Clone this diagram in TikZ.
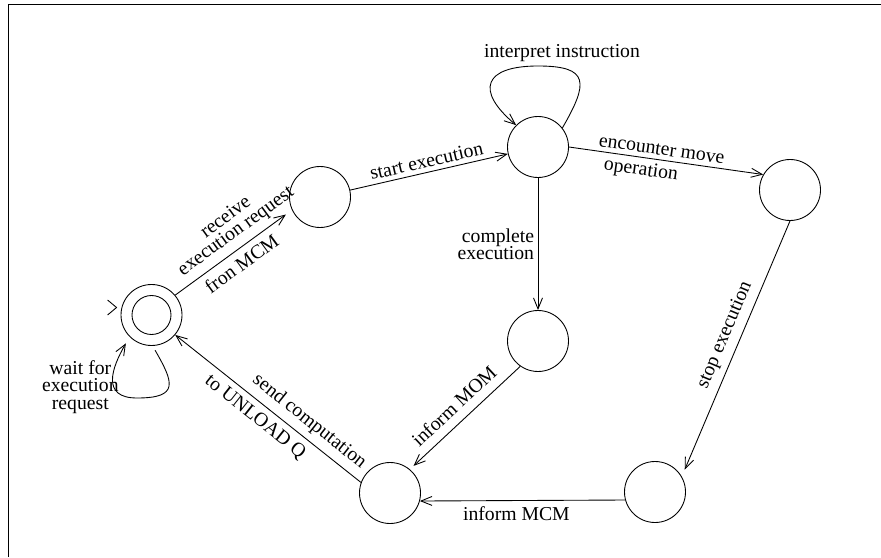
\documentclass[tikz,border=0pt]{standalone}
\usepackage{fontspec}
\setmainfont{Liberation Serif}
\usetikzlibrary{arrows.meta,calc}

\begin{document}
\begin{tikzpicture}[>={Straight Barb[length=2.2mm, width=1.8mm]}, x=1cm, y=1cm, line width=0.5pt,
  state/.style={draw, circle, minimum size=1.22cm, inner sep=0pt},
  final/.style={state, path picture={\draw (path picture bounding box.center) circle (0.39cm);}},
  lbl/.style={font=\fontsize{11.2}{9.8}\selectfont, align=center, inner sep=3.5pt}]
  \useasboundingbox (0,0) rectangle (17.62,11.14);
  % Frame
  \draw[line width=1pt] (0.17,0) -- (0.17,11.05) -- (17.62,11.05);

  % States
  \node[final] (s) at (3.03,4.84) {};
  \node[state] (a) at (6.40,7.20) {};
  \node[state] (b) at (10.76,8.20) {};
  \node[state] (c) at (15.80,7.34) {};
  \node[state] (d) at (10.76,4.32) {};
  \node[state] (e) at (7.80,1.28) {};
  \node[state] (f) at (13.10,1.30) {};

  % Initial mark
  \draw ($(s.west)+(-0.26,0.3)$) -- ($(s.west)+(-0.08,0.15)$) -- ($(s.west)+(-0.26,0)$);

  % Transitions
  \draw[->, shorten >=1.5mm] (s.40) -- node[lbl, sloped, above, pos=0.6] {receive\\execution request}
    node[lbl, sloped, below, pos=0.5] {fron MCM} (a.205);
  \draw[->] (a) -- node[lbl, sloped, above, inner sep=2.5pt] {start execution} (b);
  \draw[->] (b.east) -- node[lbl, sloped, above, pos=0.47, inner sep=2.5pt] {encounter move}
    node[lbl, sloped, below, pos=0.38, inner sep=2.5pt] {operation} (c.150);
  \draw[->] (b) -- node[lbl, left, align=right, inner sep=2pt] {complete\\execution} (d);
  \draw[->, shorten >=1.5mm] (c.-90) -- node[lbl, sloped, above, pos=0.47] {stop execution} (f.30);
  \draw[->, shorten >=1mm] (d.235) -- node[lbl, sloped, above, pos=0.5, inner sep=5pt] {inform MOM} (e.50);
  \draw[->] (f.195) -- node[lbl, below, pos=0.53] {inform MCM} (e.-15);
  \draw[->] (e.160) -- node[lbl, sloped, above, pos=0.33] {send computation}
    node[lbl, sloped, below, pos=0.52] {to UNLOAD Q} (s.-40);

  % Loops
  \draw[->] (b.38) to[out=60, in=0, looseness=2] ($(b)+(0,1.62)$)
    node[lbl, above, xshift=0.48cm, inner sep=2pt] {interpret instruction}
    to[out=180, in=140, looseness=2.2] (b.135);
  \draw[->, shorten <=1mm, shorten >=1.5mm] (s.-88) to[out=-60, in=0, looseness=2] ($(s)+(-0.29,-1.66)$)
    to[out=180, in=240, looseness=1.5] node[lbl, anchor=east, inner sep=0pt, xshift=0.12cm, yshift=-0.16cm] {wait for\\execution\\request} (s.225);
\end{tikzpicture}
\end{document}
